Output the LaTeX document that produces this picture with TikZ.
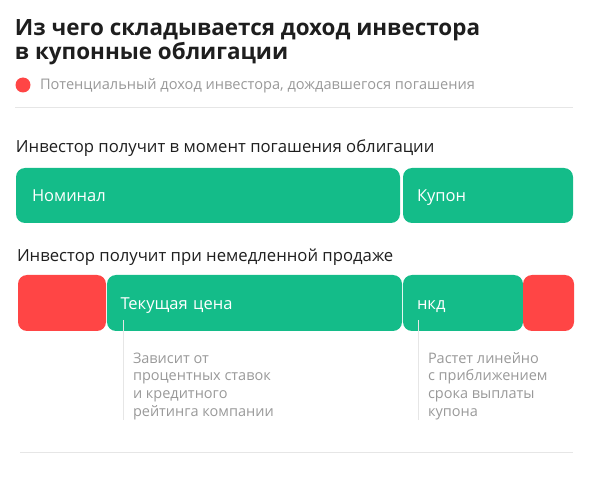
\documentclass[tikz,border=0pt]{standalone}
\usepackage{fontspec}
\setmainfont{Open Sans}
\usepackage{tikz}
\usetikzlibrary{positioning, calc}

\definecolor{bondgreen}{HTML}{14BC89}
\definecolor{lossred}{HTML}{FF4545}
\definecolor{notegray}{HTML}{999999}
\definecolor{rulegray}{HTML}{E6E6E6}
\definecolor{inkblack}{HTML}{1E1E1E}

\begin{document}
\begin{tikzpicture}[
        x=1pt, y=-1pt,
        every node/.style={inner sep=0pt, outer sep=0pt},
        heading/.style={anchor=base west, text=inkblack, font=\fontsize{16.7}{19}\selectfont},
        note/.style={anchor=base west, align=left, text=notegray, font=\fontsize{14.5}{18}\selectfont},
        bar/.style={anchor=north west, rounded corners=9pt, fill=bondgreen, text=white,
            font=\fontsize{16.5}{19}\selectfont, align=left, inner xsep=14pt,
            text height=12pt, text depth=0pt},
        lossbar/.style={bar, fill=lossred},
        guide/.style={draw=rulegray, line width=1pt}
    ]
    \useasboundingbox (0,0) rectangle (590,492);
    
    % Title
    \node[anchor=base west, text=inkblack, align=left,
        font=\fontsize{22.4}{24}\selectfont\bfseries] (title) at (15,60)
        {Из чего складывается доход инвестора\\в купонные облигации};
    
    % Legend
    \node[circle, fill=lossred, minimum size=15pt] (dot) at (23,85) {};
    \node[anchor=base west, text=notegray, font=\fontsize{14.6}{16}\selectfont] (legend) at (40,90)
        {Потенциальный доход инвестора, дождавшегося погашения};
    \draw[guide] (15,108) -- (573,108);
    
    % Redemption
    \node[heading] (redeem) at (16,153) {Инвестор получит в момент погашения облигации};
    \node[bar, minimum width=384pt, minimum height=55pt, text width=352pt, inner xsep=16pt] (nominal) at (16,168) {Номинал};
    \node[bar, minimum width=170pt, minimum height=55pt, text width=142pt] (coupon) at (403,168) {Купон};
    
    % Immediate sale
    \node[heading] (sale) at (17,262) {Инвестор получит при немедленной продаже};
    \node[lossbar, minimum width=88pt, minimum height=56pt] (lossleft) at (18,275) {};
    \node[bar, minimum width=295pt, minimum height=56pt, text width=268pt, inner xsep=13pt] (price) at (107,275) {Текущая цена};
    \node[bar, minimum width=120pt, minimum height=56pt, text width=92pt] (accrued) at (403,275) {нкд};
    \node[lossbar, minimum width=51pt, minimum height=56pt] (lossright) at (523,275) {};
    
    % Notes
    \node[note] (pricenote) at (133,417) {Зависит от\\процентных ставок\\и кредитного\\рейтинга компании};
    \node[note] (accruednote) at (428,417) {Растет линейно\\с приближением\\срока выплаты\\купона};
    \coordinate (pricetop) at (123,320);
    \coordinate (accruedtop) at (418,320);
    \draw[guide] (pricetop) -- (pricetop |- 0,420);
    \draw[guide] (accruedtop) -- (accruedtop |- 0,420);
    
    % Bottom rule
    \draw[guide] (20,452) -- (573,452);
    
\end{tikzpicture}
\end{document}
